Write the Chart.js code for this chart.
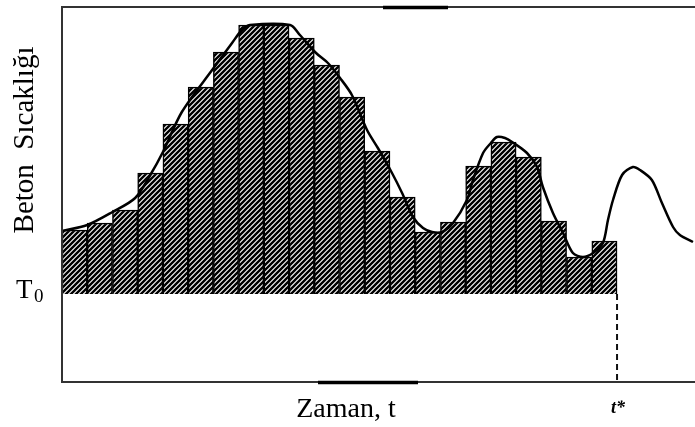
<!DOCTYPE html>
<html lang="tr">
<head>
    <meta charset="UTF-8">
    <title>Beton Sıcaklığı</title>
    <script src="https://cdn.jsdelivr.net/npm/chart.js@4.4.0/dist/chart.umd.min.js"></script>
    <style>
        body{ margin:0; background:#fff; }
        #wrap{ width:695px; height:427px; position:relative; }
    </style>
</head>
<body>
    <div id="wrap"><canvas id="myChart"></canvas></div>

    <script>
        // bar midpoints (time, in step units) and heights above T0
        const barTimes = [0.5,1.5,2.5,3.5,4.5,5.5,6.5,7.5,8.5,9.5,10.5,11.5,12.5,13.5,14.5,15.5,16.5,17.5,18.5,19.5,20.5,21.5]
        const barTemps = [6.4,7.1,8.4,12.1,17.0,20.7,24.2,26.9,26.9,25.6,22.9,19.7,14.3,9.7,6.2,7.2,12.8,15.2,13.7,7.3,3.7,5.3]

        // measured concrete temperature curve
        const curveTimes = [0,1.0,2.0,2.9,3.5,4.0,4.75,5.95,6.74,7.13,7.45,9.04,9.43,10.07,10.54,11.02,11.49,12.09,12.52,13.08,13.48,13.91,14.31,14.67,15.06,15.5,16.05,16.29,16.69,17.0,17.24,17.56,17.84,18.43,18.83,19.06,19.46,19.86,20.25,20.65,21.05,21.44,21.64,21.84,22.2,22.63,22.91,23.38,23.78,24.22,24.49,25.01]
        const curveTemps = [6.3,6.9,8.2,9.6,11.9,14.2,18.2,22.4,25.1,26.4,26.9,26.9,25.9,24.1,23.1,21.6,19.9,16.4,14.6,12.1,10.1,7.7,6.6,6.2,6.2,7.1,9.4,11.4,14.1,15.1,15.7,15.6,15.2,14.1,12.7,10.7,8.1,6.1,4.1,3.7,4.1,5.1,7.4,9.4,11.9,12.7,12.4,11.4,9.1,6.7,5.9,5.2]

        const tStar = 22
        const serif = '"Liberation Serif", "DejaVu Serif", serif'

        // diagonal hatch for the bars
        let makeHatch = ()=>{
            const s = 5
            const c = document.createElement('canvas')
            c.width = s; c.height = s
            const g = c.getContext('2d')
            g.fillStyle = '#fff'
            g.fillRect(0,0,s,s)
            g.strokeStyle = '#000'
            g.lineWidth = 2.4
            g.beginPath()
            g.moveTo(-1,s+1); g.lineTo(s+1,-1)
            g.moveTo(-1,1); g.lineTo(1,-1)
            g.moveTo(s-1,s+1); g.lineTo(s+1,s-1)
            g.stroke()
            return g.createPattern(c,'repeat')
        }

        // frame, t* marker and the labels
        const decor = {
            id: 'decor',
            afterDraw(chart){
                const ctx = chart.ctx
                const a = chart.chartArea
                const xs = chart.scales.x, ys = chart.scales.y
                ctx.save()
                ctx.strokeStyle = '#333'
                ctx.lineWidth = 2
                ctx.beginPath()
                ctx.moveTo(a.right, a.top); ctx.lineTo(a.left, a.top)
                ctx.lineTo(a.left, a.bottom); ctx.lineTo(a.right, a.bottom)
                ctx.stroke()
                // heavier scan marks on the frame
                ctx.strokeStyle = '#000'
                ctx.lineWidth = 3.5
                ctx.beginPath()
                ctx.moveTo(383, a.top+0.5); ctx.lineTo(448, a.top+0.5)
                ctx.moveTo(318, a.bottom+0.5); ctx.lineTo(418, a.bottom+0.5)
                ctx.stroke()

                // dashed drop at t*
                const px = xs.getPixelForValue(tStar)
                ctx.strokeStyle = '#111'
                ctx.lineWidth = 2
                ctx.setLineDash([6,4])
                ctx.beginPath()
                ctx.moveTo(px, ys.getPixelForValue(0)); ctx.lineTo(px, a.bottom)
                ctx.stroke()
                ctx.setLineDash([])

                ctx.fillStyle = '#000'
                ctx.textAlign = 'center'
                ctx.textBaseline = 'alphabetic'
                ctx.font = '28px ' + serif
                ctx.fillText('Zaman, t', 346, 417)
                ctx.font = 'italic bold 18px ' + serif
                ctx.fillText('t*', px + 1, 413)

                ctx.textAlign = 'left'
                ctx.font = '27px ' + serif
                ctx.fillText('T', 16, 298)
                ctx.font = '19px ' + serif
                ctx.fillText('0', 34, 302)

                ctx.translate(33, 140)
                ctx.rotate(-Math.PI/2)
                ctx.textAlign = 'center'
                ctx.font = '29px ' + serif
                ctx.fillText('Beton  Sıcaklığı', 0, 0)
                ctx.restore()
            }
        }

        const ctx = document.getElementById('myChart').getContext('2d')
        const myChart = new Chart(ctx, {
            type: 'bar',
            data: {
                datasets: [{
                    type: 'line',
                    data: curveTimes.map((t,i)=>({x:t, y:curveTemps[i]})),
                    borderColor: '#000',
                    borderWidth: 2.5,
                    pointRadius: 0,
                    tension: 0.3,
                    fill: false,
                    order: 0
                },{
                    type: 'bar',
                    data: barTimes.map((t,i)=>({x:t, y:barTemps[i]})),
                    backgroundColor: makeHatch(),
                    borderColor: '#000',
                    borderWidth: 1.5,
                    barPercentage: 1,
                    categoryPercentage: 1,
                    order: 1
                }]
            },
            options: {
                responsive: true,
                maintainAspectRatio: false,
                animation: false,
                layout: { padding: { left: 62, top: 7, right: 0, bottom: 45 } },
                plugins: { legend: { display: false }, tooltip: { enabled: false } },
                scales: {
                    x: { type: 'linear', min: 0, max: 25.09, offset: false, display: false },
                    y: { min: -8.8, max: 28.7, display: false }
                }
            },
            plugins: [decor]
        });
    </script>
</body>
</html>
